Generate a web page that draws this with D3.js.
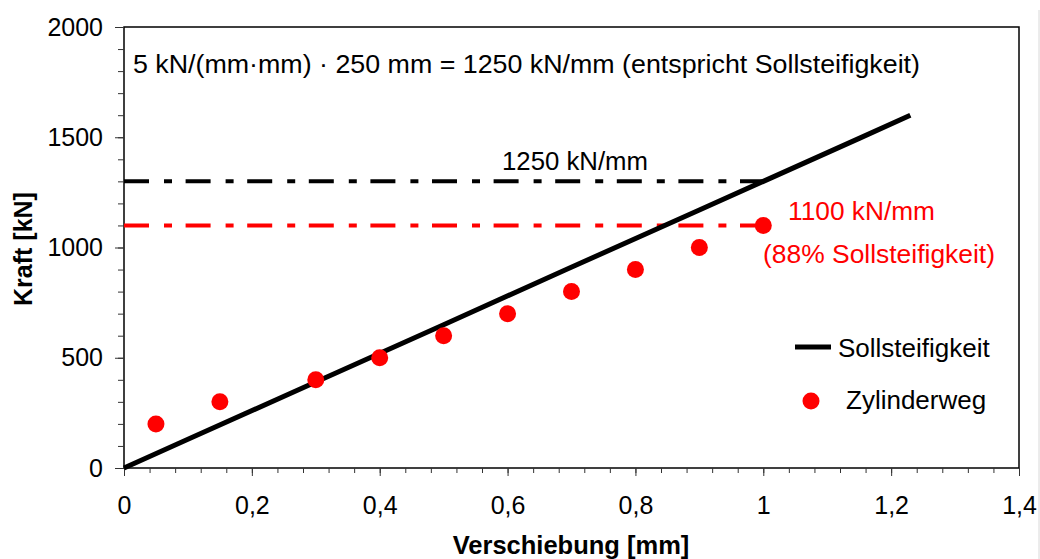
<!DOCTYPE html>
<html>
<head>
<meta charset="utf-8">
<script src="https://cdn.jsdelivr.net/npm/d3@7"></script>
<style>
  body { margin: 0; background: #fff; }
  text { font-family: "Liberation Sans", Arial, sans-serif; }
</style>
</head>
<body>
<div id="chart"></div>
<script>
// Sollsteifigkeit line (Verschiebung mm, Kraft kN)
const sollX = [0, 0.1, 0.3, 0.5, 0.69, 0.9, 1.0, 1.15, 1.23];
const sollY = [0, 130, 390, 650, 898, 1170, 1300, 1495, 1600];

// Zylinderweg measured points
const zylX = [0.05, 0.15, 0.3, 0.4, 0.5, 0.6, 0.7, 0.8, 0.9, 1.0];
const zylY = [200, 300, 400, 500, 600, 700, 800, 900, 1000, 1100];

// horizontal reference lines
const refY = [1300, 1100];
const refEnd = [1.0, 1.0];
const refColor = ["#000000", "#ff0000"];

const xTicks = [0, 0.2, 0.4, 0.6, 0.8, 1.0, 1.2, 1.4];
const yTicks = [0, 500, 1000, 1500, 2000];

const width = 1040, height = 559;
const margin = { top: 27, right: 21, bottom: 91, left: 124 };

const svg = d3.select("#chart").append("svg")
  .attr("width", width)
  .attr("height", height);

const x = d3.scaleLinear().domain([0, 1.4]).range([margin.left, width - margin.right]);
const y = d3.scaleLinear().domain([0, 2000]).range([height - margin.bottom, margin.top]);

// light border at image edge
svg.append("line")
  .attr("x1", 1039).attr("x2", 1039).attr("y1", 10).attr("y2", height)
  .attr("stroke", "#d8d8d8").attr("stroke-width", 1);

// plot frame
svg.append("rect")
  .attr("x", x(0)).attr("y", y(2000))
  .attr("width", x(1.4) - x(0)).attr("height", y(0) - y(2000))
  .attr("fill", "none").attr("stroke", "#000").attr("stroke-width", 1.5);

// minor ticks
const xMinor = d3.range(0, 1.4001, 0.04);
const yMinor = d3.range(0, 2000.1, 100);

svg.append("g")
  .attr("transform", `translate(0,${y(0)})`)
  .call(d3.axisBottom(x).tickValues(xMinor).tickSize(5).tickFormat(""))
  .call(g => g.select(".domain").remove())
  .selectAll("line").attr("stroke", "#333");

svg.append("g")
  .attr("transform", `translate(${x(0)},0)`)
  .call(d3.axisLeft(y).tickValues(yMinor).tickSize(6).tickFormat(""))
  .call(g => g.select(".domain").remove())
  .selectAll("line").attr("stroke", "#333");

// major ticks + labels
const xAxis = svg.append("g")
  .attr("transform", `translate(0,${y(0)})`)
  .call(d3.axisBottom(x).tickValues(xTicks).tickSize(8).tickPadding(20)
    .tickFormat(d => String(+d.toFixed(1)).replace(".", ",")));
xAxis.select(".domain").remove();
xAxis.selectAll("line").attr("stroke", "#333");
xAxis.selectAll("text")
  .attr("font-size", 25).attr("fill", "#000")
  .attr("font-family", "Liberation Sans, Arial, sans-serif");

const yAxis = svg.append("g")
  .attr("transform", `translate(${x(0)},0)`)
  .call(d3.axisLeft(y).tickValues(yTicks).tickSize(9).tickPadding(12).tickFormat(d3.format("d")));
yAxis.select(".domain").remove();
yAxis.selectAll("line").attr("stroke", "#333");
yAxis.selectAll("text")
  .attr("font-size", 25).attr("fill", "#000")
  .attr("font-family", "Liberation Sans, Arial, sans-serif");

// axis titles
svg.append("text")
  .attr("x", 571).attr("y", 554)
  .attr("text-anchor", "middle")
  .attr("font-size", 25.5).attr("font-weight", "bold")
  .text("Verschiebung [mm]");

svg.append("text")
  .attr("transform", `translate(32,249) rotate(-90)`)
  .attr("text-anchor", "middle")
  .attr("font-size", 25).attr("font-weight", "bold")
  .text("Kraft [kN]");

// reference dash-dot lines
svg.selectAll(".ref")
  .data(refY)
  .enter().append("line")
  .attr("class", "ref")
  .attr("x1", x(0)).attr("x2", (d, i) => x(refEnd[i]))
  .attr("y1", d => y(d)).attr("y2", d => y(d))
  .attr("stroke", (d, i) => refColor[i])
  .attr("stroke-width", 4)
  .attr("stroke-dasharray", "25,15,8,13.6");

// Sollsteifigkeit line
const line = d3.line().x(d => x(d[0])).y(d => y(d[1]));
svg.append("path")
  .datum(sollX.map((v, i) => [v, sollY[i]]))
  .attr("d", line)
  .attr("fill", "none")
  .attr("stroke", "#000")
  .attr("stroke-width", 5);

// Zylinderweg dots
svg.selectAll(".dot")
  .data(zylX.map((v, i) => [v, zylY[i]]))
  .enter().append("circle")
  .attr("class", "dot")
  .attr("cx", d => x(d[0])).attr("cy", d => y(d[1]))
  .attr("r", 8.5)
  .attr("fill", "#ff0000");

// annotations (source text is slightly wide, so fit to measured widths)
function note(tx, ty, w, col, str) {
  svg.append("text")
    .attr("x", tx).attr("y", ty)
    .attr("font-size", 25).attr("fill", col)
    .attr("textLength", w).attr("lengthAdjust", "spacingAndGlyphs")
    .text(str);
}
note(133, 73, 787, "#000", "5 kN/(mm·mm) · 250 mm = 1250 kN/mm (entspricht Sollsteifigkeit)");
note(502, 170, 146, "#000", "1250 kN/mm");
note(788, 220, 147, "#ff0000", "1100 kN/mm");
note(763, 263, 232, "#ff0000", "(88% Sollsteifigkeit)");

// legend
svg.append("line")
  .attr("x1", 795).attr("x2", 831).attr("y1", 347).attr("y2", 347)
  .attr("stroke", "#000").attr("stroke-width", 5);
svg.append("text")
  .attr("x", 838).attr("y", 357)
  .attr("font-size", 26)
  .text("Sollsteifigkeit");

svg.append("circle")
  .attr("cx", 811).attr("cy", 401).attr("r", 8.5)
  .attr("fill", "#ff0000");
svg.append("text")
  .attr("x", 846).attr("y", 409)
  .attr("font-size", 26)
  .text("Zylinderweg");
</script>
</body>
</html>
